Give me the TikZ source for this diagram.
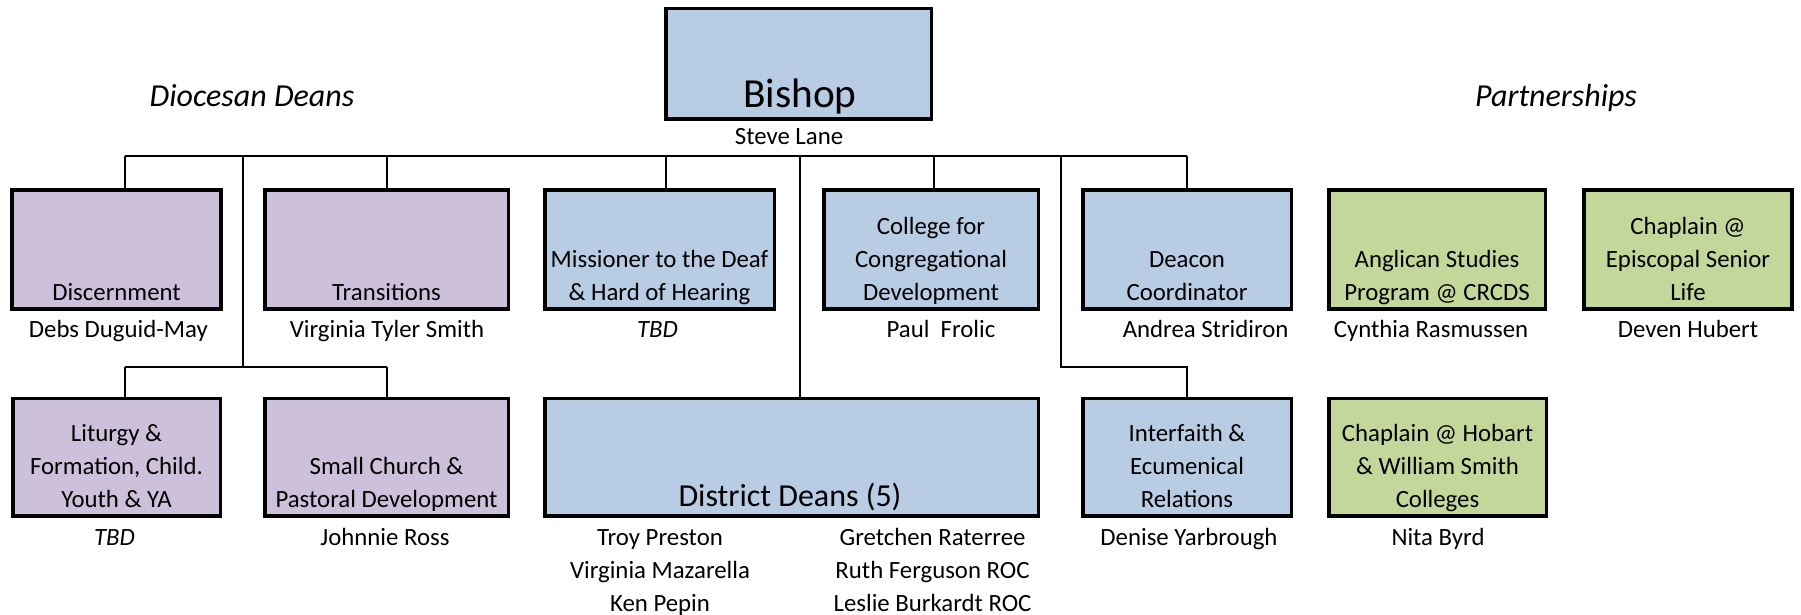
\documentclass[tikz,border=0pt]{standalone}
\usepackage{fontspec}
\setmainfont{Carlito}
\definecolor{purp}{HTML}{CCC0DA}
\definecolor{blu}{HTML}{B8CCE4}
\definecolor{grn}{HTML}{C4D79B}
\newcommand\ml[1]{\begin{tabular}[b]{@{}c@{}}#1\end{tabular}}
\tikzset{
  box/.style={draw=black, line width=3.5pt, inner sep=0pt, outer sep=0pt, rectangle},
  conn/.style={draw=black, line width=2pt},
  lbl/.style={anchor=base, inner sep=0pt, outer sep=0pt, font=\fontsize{24.8}{33}\selectfont},
  big/.style={anchor=base, inner sep=0pt, outer sep=0pt, font=\fontsize{32}{38}\selectfont},
  huge/.style={anchor=base, inner sep=0pt, outer sep=0pt, font=\fontsize{41.3}{48}\selectfont},
}
\begin{document}
\begin{tikzpicture}[x=1pt,y=-1pt]
\useasboundingbox (0,0) rectangle (1801,614);
% boxes
\node[box, fill=blu, minimum width=265.5pt, minimum height=110.5pt] (bishop) at (798.8,63.7) {};
\node[box, fill=purp, minimum width=209pt, minimum height=118.9pt] (disc) at (116.5,249.5) {};
\node[box, fill=purp, minimum width=243.5pt, minimum height=118.9pt] (trans) at (386.5,249.5) {};
\node[box, fill=blu, minimum width=229.5pt, minimum height=118.9pt] (miss) at (659.5,249.5) {};
\node[box, fill=blu, minimum width=214.5pt, minimum height=118.9pt] (coll) at (931,249.5) {};
\node[box, fill=blu, minimum width=208.5pt, minimum height=118.9pt] (deac) at (1187,249.5) {};
\node[box, fill=grn, minimum width=216.5pt, minimum height=118.9pt] (angl) at (1437,249.5) {};
\node[box, fill=grn, minimum width=208pt, minimum height=118.9pt] (esl) at (1688,249.5) {};
\node[box, fill=purp, minimum width=207.5pt, minimum height=117.2pt] (litu) at (116.5,457.3) {};
\node[box, fill=purp, minimum width=243.5pt, minimum height=117.2pt] (small) at (386.5,457.3) {};
\node[box, fill=blu, minimum width=493.5pt, minimum height=117.2pt] (dist) at (791.5,457.3) {};
\node[box, fill=blu, minimum width=208.5pt, minimum height=117.2pt] (inter) at (1187,457.3) {};
\node[box, fill=grn, minimum width=217.5pt, minimum height=117.2pt] (hob) at (1437.5,457.3) {};
% connector coordinates
\coordinate (busL) at (125,156);
\coordinate (busR) at (1187,156);
\coordinate (dL) at (243,156);
\coordinate (dM) at (666,156);
\coordinate (dD) at (800,156);
\coordinate (dC) at (934,156);
\coordinate (dR) at (1061,156);
\coordinate (b2L) at (125,367);
\coordinate (b2R) at (387,367);
\coordinate (b2I) at (1187,367);
% connectors
\draw[conn] (busL) -- (busR);
\draw[conn] (busL) -- (busL |- disc.north);
\draw[conn] (trans.north |- busL) -- (trans.north);
\draw[conn] (dM) -- (dM |- miss.north);
\draw[conn] (dC) -- (dC |- coll.north);
\draw[conn] (busR) -- (deac.north);
\draw[conn] (dL) -- (dL |- b2L);
\draw[conn] (b2L) -- (b2R);
\draw[conn] (b2L) -- (b2L |- litu.north);
\draw[conn] (b2R) -- (b2R |- small.north);
\draw[conn] (dD) -- (dD |- dist.north);
\draw[conn] (dR) |- (b2I) -- (inter.north);
% titles
\node[big] (tdd) at (252,106) {\itshape Diocesan Deans};
\node[big] (tpa) at (1556,106) {\itshape Partnerships};
\node[huge] (tbish) at (800,107) {Bishop};
\node[lbl] (nbish) at (789,144) {Steve Lane};
% row 1 box texts
\node[lbl] (tdisc) at (116.5,300.7) {Discernment};
\node[lbl] (ttrans) at (386.5,300.7) {Transitions};
\node[lbl] (tmiss) at (659.5,300.7) {\ml{Missioner to the Deaf\\\& Hard of Hearing}};
\node[lbl] (tcoll) at (931,300.7) {\ml{College for\\Congregational\\Development}};
\node[lbl] (tdeac) at (1187,300.7) {\ml{Deacon\\Coordinator}};
\node[lbl] (tangl) at (1437,300.7) {\ml{Anglican Studies\\Program @ CRCDS}};
\node[lbl] (tesl) at (1688,300.7) {\ml{Chaplain @\\Episcopal Senior\\Life}};
% row 1 names
\node[lbl] (ndisc) at (118.4,337.3) {Debs Duguid-May};
\node[lbl] (ntrans) at (387,337.3) {Virginia Tyler Smith};
\node[lbl] (nmiss) at (657.5,337.3) {\itshape TBD};
\node[lbl] (ncoll) at (941,337.3) {Paul\ \ Frolic};
\node[lbl] (ndeac) at (1205.6,337.3) {Andrea Stridiron};
\node[lbl] (nangl) at (1431,337.3) {Cynthia Rasmussen};
\node[lbl] (nesl) at (1688,337.3) {Deven Hubert};
% row 2 box texts
\node[lbl] (tlitu) at (116.5,507.7) {\ml{Liturgy \&\\Formation, Child.\\Youth \& YA}};
\node[lbl] (tsmall) at (386.5,507.7) {\ml{Small Church \&\\Pastoral Development}};
\node[big] (tdist) at (790,506.7) {District Deans (5)};
\node[lbl] (tinter) at (1187,507.7) {\ml{Interfaith \&\\Ecumenical\\Relations}};
\node[lbl] (thob) at (1437.5,507.7) {\ml{Chaplain @ Hobart\\\& William Smith\\Colleges}};
% row 2 names
\node[lbl] (nlitu) at (114.5,545) {\itshape TBD};
\node[lbl] (nsmall) at (385,545) {Johnnie Ross};
\node[lbl] (ndist1) at (660,611) {\ml{Troy Preston\\Virginia Mazarella\\Ken Pepin}};
\node[lbl] (ndist2) at (932.5,611) {\ml{Gretchen Raterree\\Ruth Ferguson ROC\\Leslie Burkardt ROC}};
\node[lbl] (ninter) at (1189,545) {Denise Yarbrough};
\node[lbl] (nhob) at (1438,545) {Nita Byrd};
\end{tikzpicture}
\end{document}
